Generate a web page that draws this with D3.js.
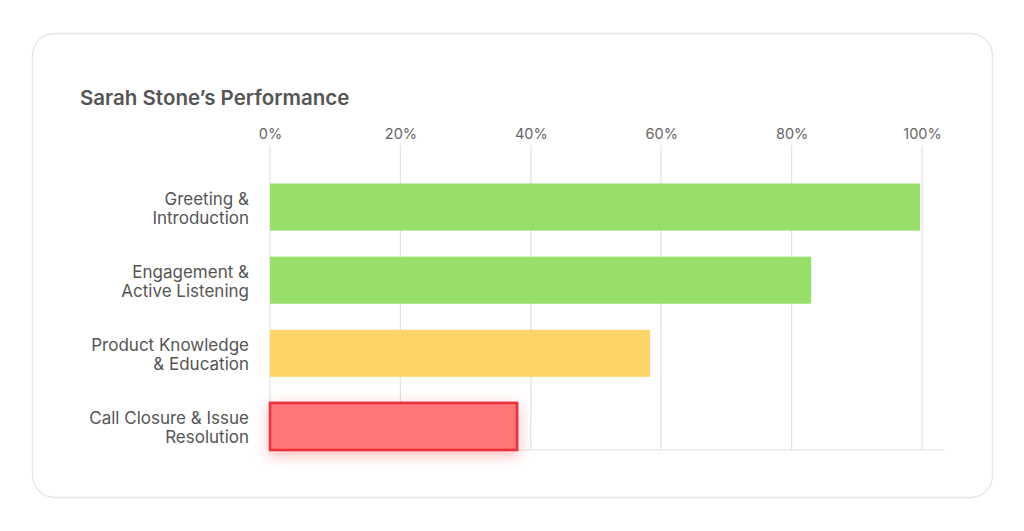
<!DOCTYPE html>
<html>
<head>
<meta charset="utf-8">
<script src="https://cdn.jsdelivr.net/npm/d3@7"></script>
<style>
  html, body { margin: 0; padding: 0; background: #ffffff; }
  svg { display: block; }
  text { font-family: Inter, "Noto Sans", sans-serif; }
</style>
</head>
<body>
<svg id="chart" width="1024" height="531"></svg>
<script>
const title = "Sarah Stone’s Performance";
const categories = [
  ["Greeting &", "Introduction"],
  ["Engagement &", "Active Listening"],
  ["Product Knowledge", "& Education"],
  ["Call Closure & Issue", "Resolution"]
];
const values = [99.7, 83, 58.3, 37.9];
const barColors = ["#97df68", "#97df68", "#fdd467", "#ff7676"];
const tickValues = [0, 20, 40, 60, 80, 100];

const svg = d3.select("#chart");

const defs = svg.append("defs");
const f = defs.append("filter").attr("id", "glow")
  .attr("x", "-20%").attr("y", "-80%").attr("width", "140%").attr("height", "260%");
f.append("feDropShadow").attr("dx", 0).attr("dy", 4).attr("stdDeviation", 7)
  .attr("flood-color", "#ff3b3b").attr("flood-opacity", 0.35);

// card
svg.append("rect")
  .attr("x", 32.5).attr("y", 33.5).attr("width", 960).attr("height", 464)
  .attr("rx", 22).attr("fill", "#fff").attr("stroke", "#e6e6e6").attr("stroke-width", 1.3);

svg.append("text")
  .attr("x", 80).attr("y", 105)
  .attr("font-size", 20.5).attr("font-weight", 600).attr("fill", "#555")
  .attr("letter-spacing", 0)
  .text(title);

const x = d3.scaleLinear().domain([0, 100]).range([270, 922]);
const y = d3.scaleBand().domain(d3.range(categories.length))
  .range([170.5, 463]).paddingInner(0.356).paddingOuter(0.178);

// grid
const gridTop = 145, gridBottom = 450;
svg.append("g").selectAll("line").data(tickValues).join("line")
  .attr("x1", d => x(d)).attr("x2", d => x(d))
  .attr("y1", gridTop).attr("y2", gridBottom)
  .attr("stroke", "#e2e2e2").attr("stroke-width", 1.2);

// top axis labels
const axis = d3.axisTop(x).tickValues(tickValues).tickFormat(d => d + "%").tickSize(0).tickPadding(0);
const ag = svg.append("g").attr("transform", "translate(0,138.5)").call(axis);
ag.select(".domain").remove();
ag.selectAll("text").attr("font-size", 14.5).attr("fill", "#666")
  .attr("font-family", "Inter, 'Noto Sans', sans-serif").attr("dy", 0);

// bottom axis line
svg.append("line").attr("x1", 270).attr("x2", 945).attr("y1", 450).attr("y2", 450)
  .attr("stroke", "#e2e2e2").attr("stroke-width", 1.2);

// bars
const last = categories.length - 1;
svg.append("g").selectAll("rect").data(values).join("rect")
  .attr("x", x(0))
  .attr("y", (d, i) => y(i))
  .attr("width", d => x(d) - x(0))
  .attr("height", y.bandwidth())
  .attr("fill", (d, i) => barColors[i])
  .attr("stroke", (d, i) => i === last ? "#e8333d" : "none")
  .attr("stroke-width", (d, i) => i === last ? 2.6 : 0)
  .attr("filter", (d, i) => i === last ? "url(#glow)" : null);

// category labels
const lg = svg.append("g");
categories.forEach((lines, i) => {
  const cy = y(i) + y.bandwidth() / 2;
  const t = lg.append("text").attr("text-anchor", "end")
    .attr("font-size", 17).attr("fill", "#555");
  lines.forEach((ln, j) => {
    t.append("tspan").attr("x", 249).attr("y", cy + (j === 0 ? -2 : 16.5)).text(ln);
  });
});
</script>
</body>
</html>
